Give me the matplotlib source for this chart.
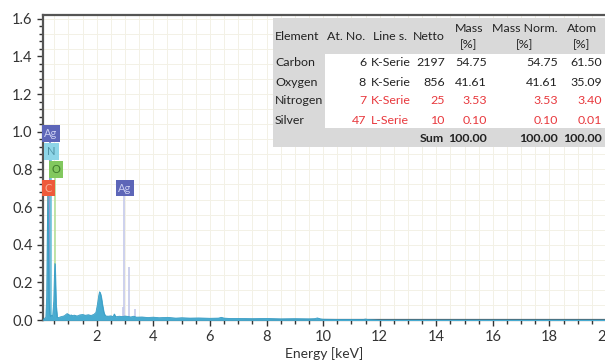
import matplotlib.pyplot as plt
import matplotlib.patches as mpatches
import numpy as np

plt.rcParams['font.family'] = ['Lato', 'DejaVu Sans']

# spectrum (energy in keV, intensity)
energy = [0.10, 0.15, 0.20, 0.23, 0.25, 0.27, 0.29, 0.31, 0.34, 0.37, 0.40, 0.44,
          0.48, 0.50, 0.52, 0.54, 0.56, 0.60, 0.65, 0.70, 0.75, 0.80, 0.85, 0.90,
          0.95, 1.00, 1.05, 1.10, 1.15, 1.20, 1.30, 1.40, 1.50, 1.60, 1.70, 1.80,
          1.90, 1.97, 2.02, 2.07, 2.10, 2.13, 2.16, 2.20, 2.25, 2.30, 2.40, 2.50,
          2.58, 2.62, 2.66, 2.80, 2.90, 3.00, 3.10, 3.20, 3.30, 3.40, 3.60, 3.80,
          4.00, 4.20, 4.50, 4.80, 5.00, 5.30, 5.60, 6.00, 6.30, 6.40, 6.50, 6.70,
          7.00, 7.50, 8.00, 8.50, 9.00, 9.50, 9.70, 9.80, 9.90, 10.00, 10.50,
          11.00, 11.40, 11.50, 11.60, 12.00, 20.00]
counts = [0.000, 0.008, 0.015, 0.12, 0.45, 0.66, 0.40, 0.12, 0.03, 0.018, 0.025, 0.02,
          0.10, 0.22, 0.30, 0.20, 0.08, 0.015, 0.012, 0.016, 0.018, 0.020, 0.022, 0.028,
          0.034, 0.030, 0.024, 0.027, 0.022, 0.026, 0.021, 0.027, 0.029, 0.025, 0.028, 0.024,
          0.030, 0.040, 0.080, 0.130, 0.150, 0.140, 0.120, 0.080, 0.040, 0.022, 0.020, 0.022,
          0.018, 0.032, 0.017, 0.020, 0.018, 0.021, 0.019, 0.016, 0.020, 0.015, 0.016, 0.013,
          0.015, 0.012, 0.014, 0.010, 0.012, 0.010, 0.011, 0.009, 0.010, 0.014, 0.010, 0.008,
          0.008, 0.007, 0.008, 0.006, 0.007, 0.006, 0.007, 0.011, 0.006, 0.004, 0.003,
          0.003, 0.002, 0.005, 0.002, 0.000, 0.000]

# element marker lines
line_energy = [0.33, 0.39, 0.525, 0.28, 2.98, 2.94, 3.15, 3.35]
line_top = [0.96, 0.87, 0.78, 0.68, 0.68, 0.07, 0.28, 0.06]
line_color = ['#7d84c8', '#6cc6dc', '#b4e09a', '#f09a80',
              '#c5c9ea', '#c5c9ea', '#c5c9ea', '#c5c9ea']

# element label boxes
label_text = ['Ag', 'N', 'O', 'C', 'Ag']
label_x = [0.38, 0.40, 0.55, 0.28, 3.0]
label_y = [0.99, 0.895, 0.80, 0.70, 0.70]
label_face = ['#5d66b8', '#8ed6e8', '#82c85e', '#ee5a3a', '#5d66b8']
label_fg = ['#c9cdf0', '#4f93a6', '#3f7a2c', '#f7ad95', '#c9cdf0']

# quantification table
elements = ['Carbon', 'Oxygen', 'Nitrogen', 'Silver']
at_no = ['6', '8', '7', '47']
line_s = ['K-Serie', 'K-Serie', 'K-Serie', 'L-Serie']
netto = ['2197', '856', '25', '10']
mass = ['54.75', '41.61', '3.53', '0.10']
mass_norm = ['54.75', '41.61', '3.53', '0.10']
atom = ['61.50', '35.09', '3.40', '0.01']
row_red = [False, False, True, True]
sums = ['100.00', '100.00', '100.00']

W, H = 605, 363
fig = plt.figure(figsize=(W / 100, H / 100), dpi=100)
ax = fig.add_axes([43 / W, 43 / H, 563 / W, 305 / H])

ax.fill_between(energy, counts, 0, color='#48abd0', lw=0.6, zorder=3)
ax.plot(energy, counts, color='#3a9ec6', lw=0.6, zorder=3)
ax.vlines(line_energy, 0, line_top, colors=line_color, lw=1.2, zorder=2)

for t, x, y, fc, tc in zip(label_text, label_x, label_y, label_face, label_fg):
    ax.text(x, y, t, ha='center', va='center', fontsize=8, color=tc, zorder=5,
            bbox=dict(boxstyle='square,pad=0.25', fc=fc, ec='none'))

ax.set_xlim(0.1, 20)
ax.set_ylim(0, 1.62)
ax.set_xticks(np.arange(2, 21, 2))
ax.set_xticks(np.arange(0.5, 20.01, 0.5), minor=True)
ax.set_yticks(np.arange(0, 1.61, 0.2))
ax.set_yticks(np.arange(0, 1.61, 0.04), minor=True)
ax.set_xticklabels([str(v) for v in range(2, 21, 2)])
ax.set_yticklabels(['%.1f' % v for v in np.arange(0, 1.61, 0.2)])
# faint background grid
for gx in np.arange(0.5, 20.01, 0.5):
    ax.axvline(gx, color='#f3f1e6', lw=0.7, zorder=0)
for gy in np.arange(0.08, 1.61, 0.08):
    ax.axhline(gy, color='#f3f1e6', lw=0.7, zorder=0)
ax.tick_params(which='both', direction='out', color='#333333', labelsize=10.5,
               labelcolor='#333333', width=1.0)
ax.tick_params(which='major', length=4)
ax.tick_params(which='minor', length=3)
for side in ['left', 'top', 'bottom']:
    ax.spines[side].set_color('#555555')
    ax.spines[side].set_linewidth(1.6)
ax.spines['right'].set_visible(False)
ax.set_xlabel('Energy [keV]', fontsize=10, color='#333333', labelpad=2)


def px(x, y):
    return x / W, 1 - y / H


def rect(x0, y0, x1, y1, color):
    fig.patches.append(mpatches.Rectangle(px(x0, y1), (x1 - x0) / W, (y1 - y0) / H,
                                          transform=fig.transFigure, fc=color,
                                          ec='none', zorder=2))


def txt(x, y, s, ha='left', color='#222222', weight='normal'):
    fig.text(*px(x, y), s, ha=ha, va='center', fontsize=8.9, color=color,
             weight=weight, zorder=4)


rect(273, 18, 606, 147, '#d9d9d9')
rect(325, 54, 606, 128, '#ffffff')

txt(275, 37, 'Element')
txt(346, 37, 'At. No.', ha='center')
txt(390, 37, 'Line s.', ha='center')
txt(429, 37, 'Netto', ha='center')
for cx, head in zip([469, 525, 582], ['Mass', 'Mass Norm.', 'Atom']):
    txt(cx, 28, head, ha='center')
    txt(cx, 45, '[%]', ha='center')

row_y = [63, 82, 101, 120]
for i, y in enumerate(row_y):
    c = '#e8383d' if row_red[i] else '#222222'
    txt(275, y, elements[i])
    txt(366, y, at_no[i], ha='right', color=c)
    txt(371, y, line_s[i], color=c)
    txt(445, y, netto[i], ha='right', color=c)
    txt(487, y, mass[i], ha='right', color=c)
    txt(558, y, mass_norm[i], ha='right', color=c)
    txt(602, y, atom[i], ha='right', color=c)

txt(444, 139, 'Sum', ha='right', weight='bold')
for xr, s in zip([487, 558, 602], sums):
    txt(xr, 139, s, ha='right', weight='bold')

fig.savefig('out.png', dpi=100)
